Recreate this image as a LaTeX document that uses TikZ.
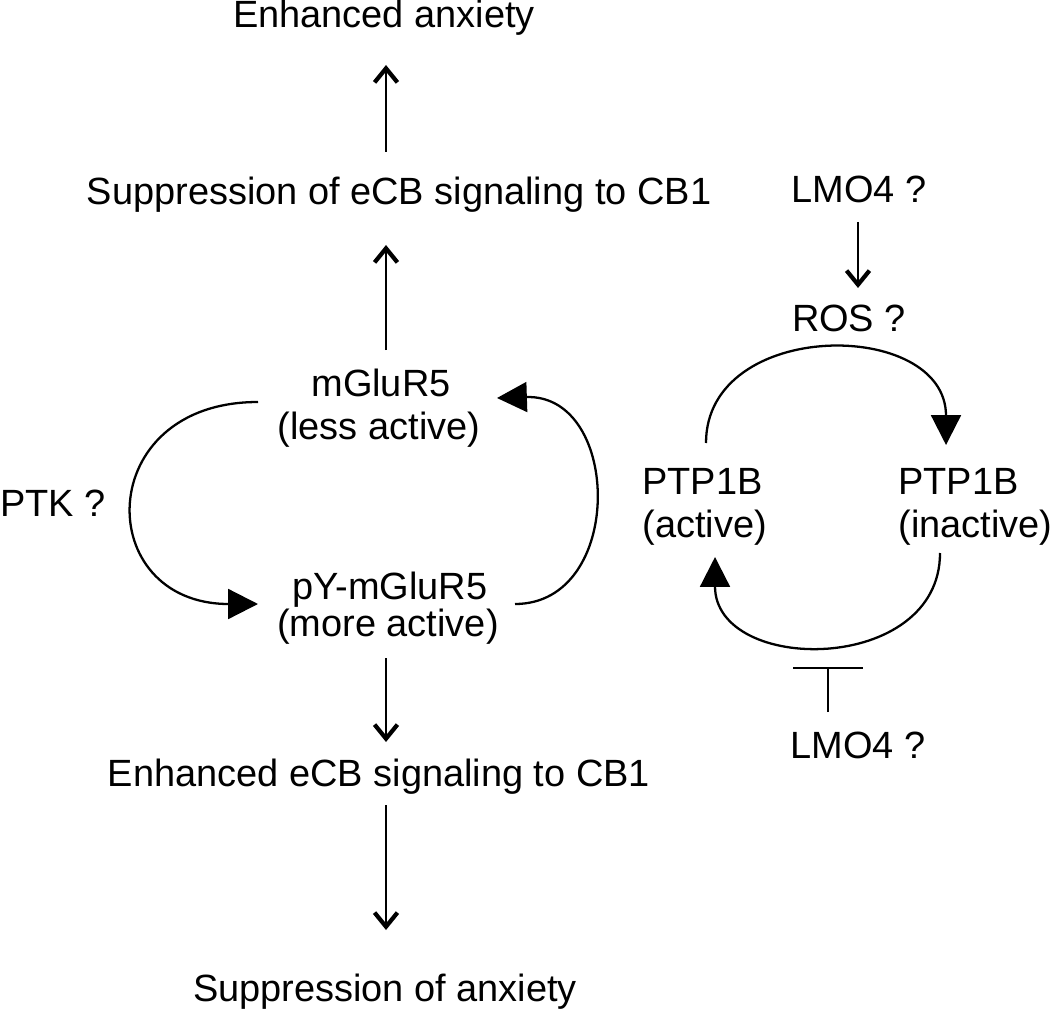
\documentclass[tikz,border=0pt]{standalone}
\usepackage{fontspec}
\setmainfont{Liberation Sans}
\usetikzlibrary{arrows.meta}
\tikzset{
  lbl/.style={anchor=base, inner sep=0pt, font=\fontsize{21.6}{24}\selectfont},
  lbll/.style={anchor=base west, inner sep=0pt, font=\fontsize{21.6}{24}\selectfont},
  varrow/.style={line width=1.5pt, -{Straight Barb[length=8pt,width=13pt,line width=2.4pt]}},
  tarrow/.style={line width=1.3pt, -{Triangle[length=17pt,width=17pt]}},
  inhib/.style={line width=1pt},
}
\begin{document}
\begin{tikzpicture}[x=0.02cm,y=-0.02cm]
\useasboundingbox (0,0) rectangle (1050,1013);
% left column texts
\node[lbl] (enhanx) at (384,28) {Enhanced anxiety};
\node[lbl] (suppecb) at (399,205) {Suppression of eCB signaling to CB1};
\node[lbl] (mglu) at (381,396) {mGluR5};
\node[lbl] (mgluB) at (379,439) {(less active)};
\node[lbl] (pymglu) at (390,599) {pY-mGluR5};
\node[lbl] (pymgluB) at (388,636) {(more active)};
\node[lbll] (ptk) at (0,516) {PTK ?};
\node[lbl] (enhecb) at (379,786) {Enhanced eCB signaling to CB1};
\node[lbl] (suppanx) at (385,1001) {Suppression of anxiety};
% right texts
\node[lbl] (lmotop) at (859,203) {LMO4 ?};
\node[lbl] (ros) at (849,331) {ROS ?};
\node[lbll] (ptpa) at (642,494) {PTP1B};
\node[lbll] (ptpaB) at (642,537) {(active)};
\node[lbll] (ptpi) at (898,494) {PTP1B};
\node[lbll] (ptpiB) at (898,537) {(inactive)};
\node[lbl] (lmobot) at (858,758) {LMO4 ?};
% connector end points
\coordinate (a1s) at (386,152); \coordinate (a1e) at (386,65);
\coordinate (a2s) at (386,350); \coordinate (a2e) at (386,245);
\coordinate (a3s) at (386,658); \coordinate (a3e) at (386,742);
\coordinate (a4s) at (386,805); \coordinate (a4e) at (386,930);
\coordinate (a5s) at (858,222); \coordinate (a5e) at (858,288);
\coordinate (la) at (258,402); \coordinate (lb) at (258,604);
\coordinate (ra) at (515,604); \coordinate (rb) at (497,398);
\coordinate (ta) at (706,443); \coordinate (tb) at (946,445);
\coordinate (ba) at (940,553); \coordinate (bb) at (715,557);
\coordinate (ib) at (828,668); \coordinate (is) at (828,712);
% vertical arrows
\draw[varrow] (a1s) -- (a1e);
\draw[varrow] (a2s) -- (a2e);
\draw[varrow] (a3s) -- (a3e);
\draw[varrow] (a4s) -- (a4e);
\draw[varrow] (a5s) -- (a5e);
% mGluR5 cycle
\draw[tarrow] (la) .. controls (92,402) and (92,604) .. (lb);
\draw[tarrow] (ra) .. controls (625,604) and (622,394) .. (rb);
% PTP1B cycle
\draw[tarrow] (ta) .. controls (706,318) and (946,318) .. (tb);
\draw[tarrow] (ba) .. controls (940,675) and (715,675) .. (bb);
% inhibition
\draw[inhib] (is) -- (ib);
\draw[inhib] ([xshift=-35*0.02cm]ib) -- ([xshift=35*0.02cm]ib);
\end{tikzpicture}
\end{document}
